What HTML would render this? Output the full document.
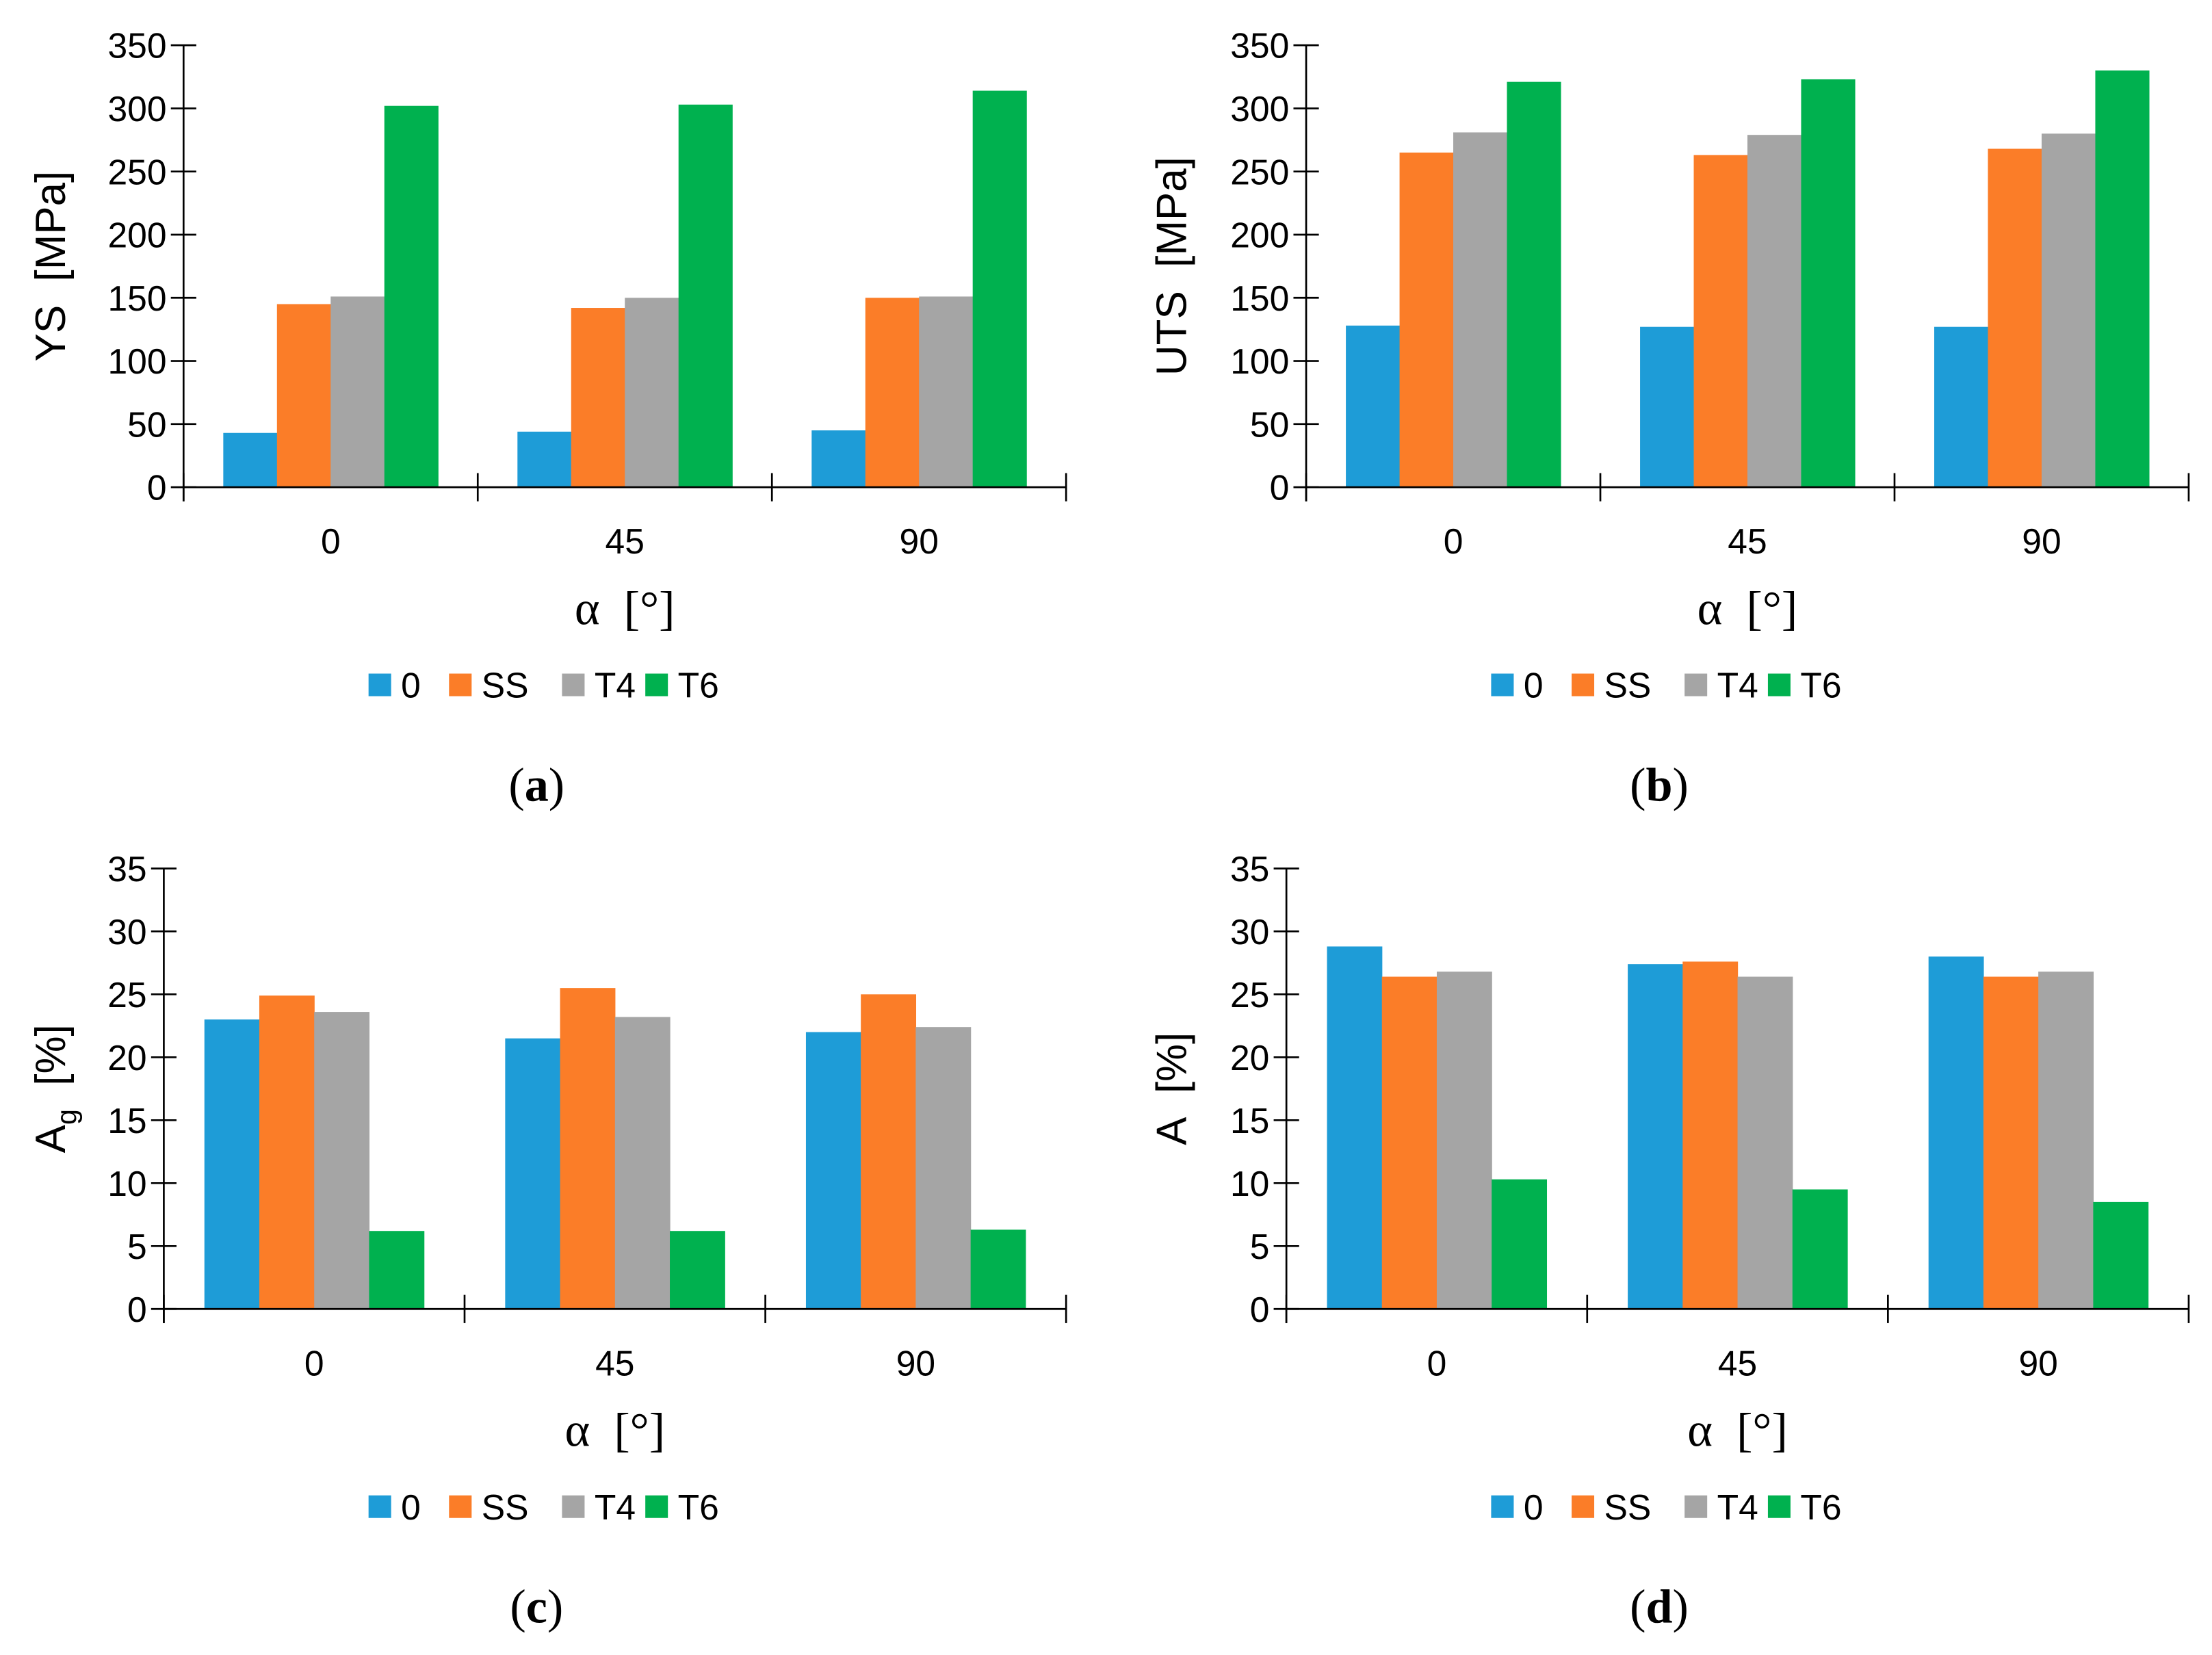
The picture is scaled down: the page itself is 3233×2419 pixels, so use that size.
<!DOCTYPE html>
<html><head><meta charset="utf-8"><style>
html,body{margin:0;padding:0;background:#fff;}
svg{display:block;}
text{font-family:"Liberation Sans Narrow","Liberation Sans",sans-serif;fill:#000;}
</style></head><body>
<svg id="fig" width="3233" height="2419" viewBox="0 0 1566.5 1172" xmlns="http://www.w3.org/2000/svg"></svg>
<script>
const categories = ["0", "45", "90"];
const seriesNames = ["0", "SS", "T4", "T6"];
const yTicksMPa = [0, 50, 100, 150, 200, 250, 300, 350];
const yTicksPct = [0, 5, 10, 15, 20, 25, 30, 35];
// (a) YS
const ysZero = [43, 44, 45];
const ysSS = [145, 142, 150];
const ysT4 = [151, 150, 151];
const ysT6 = [302, 303, 314];
// (b) UTS
const utsZero = [128, 127, 127];
const utsSS = [265, 263, 268];
const utsT4 = [281, 279, 280];
const utsT6 = [321, 323, 330];
// (c) Ag
const agZero = [23.0, 21.5, 22.0];
const agSS = [24.9, 25.5, 25.0];
const agT4 = [23.6, 23.2, 22.4];
const agT6 = [6.2, 6.2, 6.3];
// (d) A
const aZero = [28.8, 27.4, 28.0];
const aSS = [26.4, 27.6, 26.4];
const aT4 = [26.8, 26.4, 26.8];
const aT6 = [10.3, 9.5, 8.5];

const colors = ["#1e9cd7", "#fb7d28", "#a5a5a5", "#00b14f"];
const NS = "http://www.w3.org/2000/svg";
const svg = document.getElementById('fig');
function mk(tag, attrs, parent) {
  const e = document.createElementNS(NS, tag);
  for (const k in attrs) e.setAttribute(k, attrs[k]);
  (parent || svg).appendChild(e);
  return e;
}

function drawChart(cfg) {
  const g = mk('g', {});
  
  
  const x0 = cfg.x0, x1 = cfg.x1, yb = cfg.yb, yt = cfg.yt;
  const ymax = cfg.ticks[cfg.ticks.length - 1];
  const ys = v => yb - (v / ymax) * (yb - yt);
  const gw = (x1 - x0) / categories.length;
  const off = gw * 0.135, bw = (gw - 2 * off) / 4;
  cfg.series.forEach((arr, si) => {
    arr.forEach((v, ci) => {
      const r = mk('rect', {x: x0 + ci * gw + off + si * bw, y: ys(v), width: bw + 0.3, height: yb - ys(v), fill: colors[si]}, g);
      
      
    });
  });
  const ya = mk('line', {x1: x0, y1: yt, x2: x0, y2: yb + 10, stroke: '#000', 'stroke-width': 1.3}, g);
  
  
  cfg.ticks.forEach(t => {
    mk('line', {x1: x0 - 9, y1: ys(t), x2: x0 + 9, y2: ys(t), stroke: '#000', 'stroke-width': 1.3}, g);
    const tx = mk('text', {x: x0 - 12, y: ys(t) + 9, 'text-anchor': 'end', 'font-size': 25}, g);
    tx.textContent = t;
    
    
  });
  const xa = mk('line', {x1: x0, y1: yb, x2: x1, y2: yb, stroke: '#000', 'stroke-width': 1.3}, g);
  
  
  for (let i = 0; i <= categories.length; i++) {
    mk('line', {x1: x0 + i * gw, y1: yb - 10, x2: x0 + i * gw, y2: yb + 10, stroke: '#000', 'stroke-width': 1.3}, g);
  }
  categories.forEach((c, i) => {
    const tx = mk('text', {x: x0 + (i + 0.5) * gw, y: yb + 47, 'text-anchor': 'middle', 'font-size': 25}, g);
    tx.textContent = c;
    
    
  });
  const xt = mk('text', {x: (x0 + x1) / 2, y: yb + 97, 'text-anchor': 'middle', 'font-size': 34, style: 'font-family:"Liberation Serif",serif'}, g);
  xt.textContent = 'α\u00a0\u00a0[°]';
  
  
  const ytl = mk('text', {x: 0, y: 0, 'text-anchor': 'middle', 'font-size': 30, transform: 'translate(' + (cfg.ytx) + ',' + ((yt + yb) / 2 + cfg.ytdy) + ') rotate(-90)', style: 'font-family:"Liberation Sans",sans-serif'}, g);
  ytl.innerHTML = cfg.ytitle;
  
  
  const lg = mk('g', {}, g);
  
  
  const lx = [0, 57, 137, 196];
  seriesNames.forEach((s, i) => {
    const bx = cfg.lx + lx[i];
    mk('rect', {x: bx, y: yb + 132, width: 16, height: 16, fill: colors[i]}, lg);
    const t = mk('text', {x: bx + 23, y: yb + 149, 'font-size': 25}, lg);
    t.textContent = s;
    
    
  });
  const cap = mk('text', {x: cfg.capx, y: yb + 222, 'text-anchor': 'middle', 'font-size': 34, style: 'font-family:"Liberation Serif",serif'}, g);
  cap.innerHTML = '(<tspan font-weight="bold">' + cfg.id + '</tspan>)';
  
  
}

drawChart({id: 'a', x0: 130, x1: 755, yb: 345, yt: 32, ticks: yTicksMPa, series: [ysZero, ysSS, ysT4, ysT6], ytitle: 'YS\u00a0\u00a0[MPa]', ytx: 46, ytdy: 0, lx: 261, capx: 380});
drawChart({id: 'b', x0: 925, x1: 1550, yb: 345, yt: 32, ticks: yTicksMPa, series: [utsZero, utsSS, utsT4, utsT6], ytitle: 'UTS\u00a0\u00a0[MPa]', ytx: 840, ytdy: 0, lx: 1056, capx: 1175});
drawChart({id: 'c', x0: 116, x1: 755, yb: 927, yt: 615, ticks: yTicksPct, series: [agZero, agSS, agT4, agT6], ytitle: 'A<tspan font-size="20" dy="8">g</tspan><tspan dy="-8">\u00a0\u00a0[%]</tspan>', ytx: 46, ytdy: 0, lx: 261, capx: 380});
drawChart({id: 'd', x0: 911, x1: 1550, yb: 927, yt: 615, ticks: yTicksPct, series: [aZero, aSS, aT4, aT6], ytitle: 'A\u00a0\u00a0[%]', ytx: 840, ytdy: 0, lx: 1056, capx: 1175});
</script>
</body></html>
